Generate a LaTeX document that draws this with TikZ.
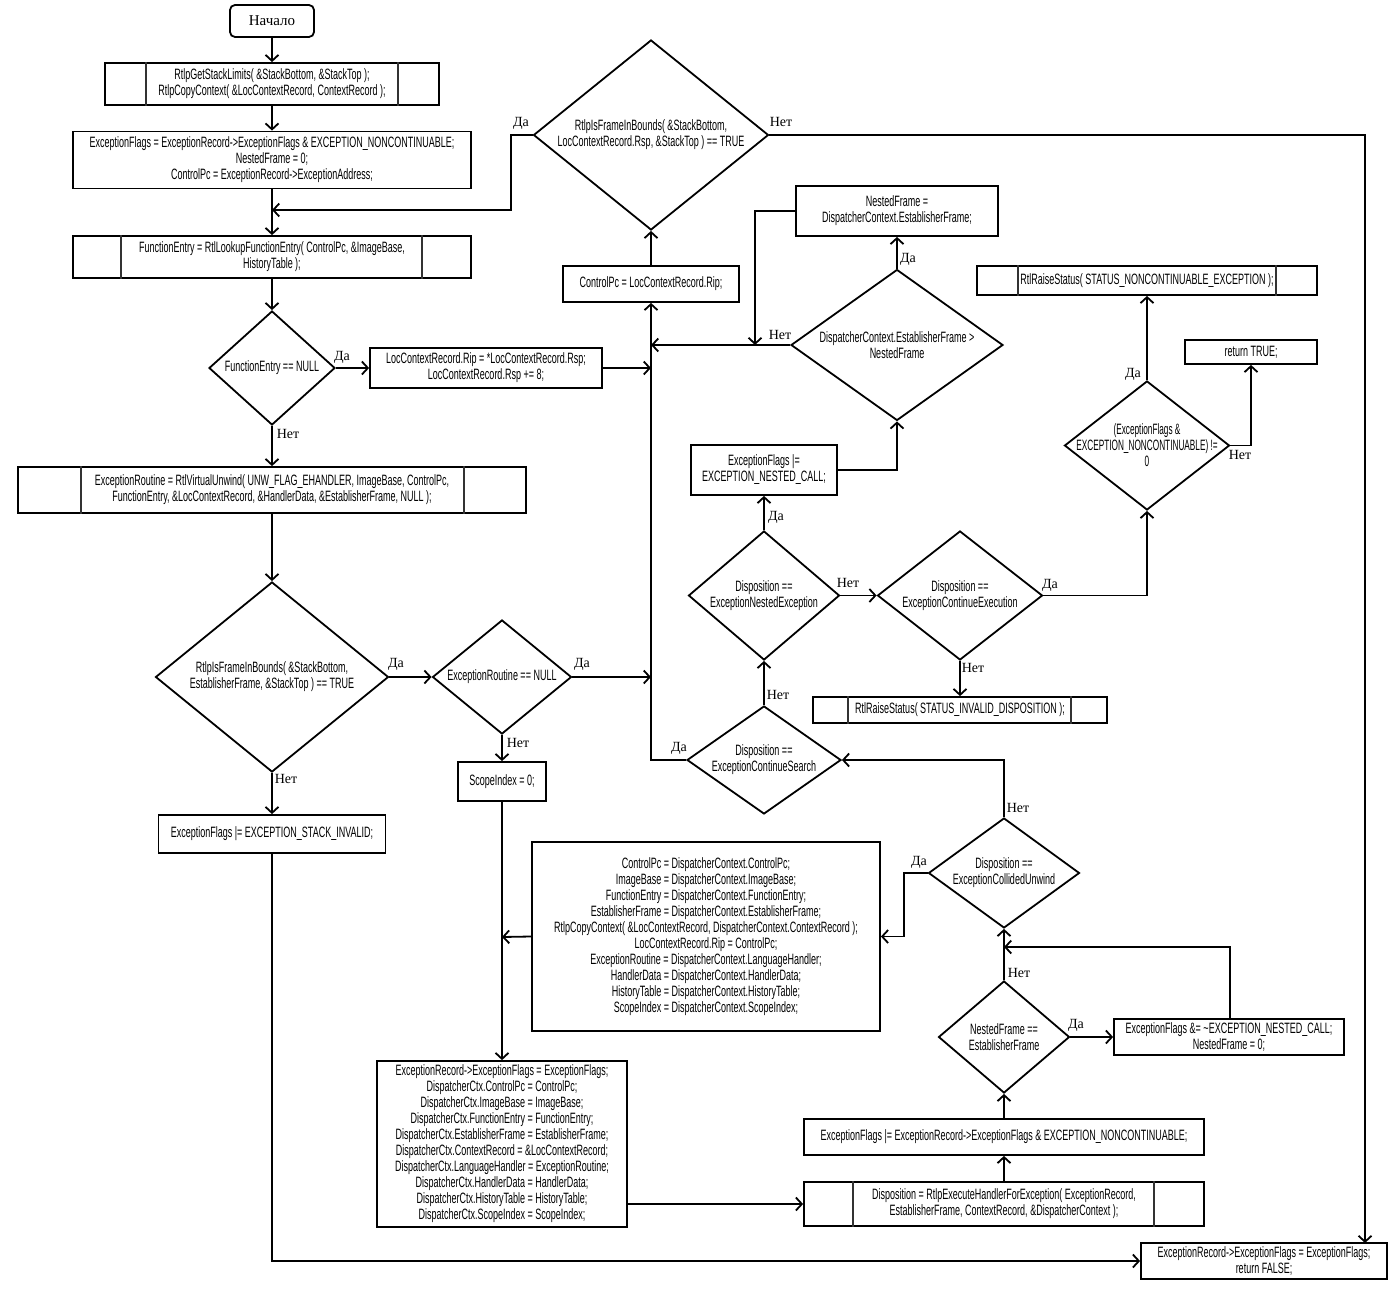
\documentclass[tikz,border=0pt]{standalone}
\usepackage{fontspec}
\setmainfont{Liberation Serif}
\newfontfamily\cf[FakeStretch=0.6]{Liberation Sans}
\newfontfamily\cfn[FakeStretch=0.55]{Liberation Sans}
\usetikzlibrary{shapes.geometric,arrows.meta}
\begin{document}
\begin{tikzpicture}[x=1pt,y=-1pt,
  every node/.style={inner sep=0pt, align=center},
  ln/.style={line width=1.8pt},
  arr/.style={ln,-{Straight Barb[length=6pt,width=13pt]}},
  inner/.style={line width=1.3pt, draw=black!80},
  proc/.style={draw,ln,rectangle,font={\cf\fontsize{15pt}{16pt}\selectfont}},
  dia/.style={draw,ln,diamond},
  dt/.style={font={\cf\fontsize{15pt}{16pt}\selectfont}},
  lab/.style={font={\fontsize{14pt}{16pt}\selectfont}}
]
\fill[white] (0,0) rectangle (1400,1300);
\useasboundingbox (0,0) rectangle (1400,1300);

% ---------- nodes ----------
\node[draw,ln,rounded corners=5pt,minimum width=84pt,minimum height=32pt,font={\fontsize{15pt}{16pt}\selectfont}] (start) at (272,21) {Начало};

\node[proc,minimum width=334pt,minimum height=42pt] (A) at (272,84)
 {RtlpGetStackLimits( \&StackBottom, \&StackTop );\\RtlpCopyContext( \&LocContextRecord, ContextRecord );};
\draw[inner] ([xshift=42pt]A.north west) -- ([xshift=42pt]A.south west);
\draw[inner] ([xshift=-42pt]A.north east) -- ([xshift=-42pt]A.south east);

\node[proc,minimum width=398pt,minimum height=57pt] (B) at (272,160)
 {ExceptionFlags = ExceptionRecord->ExceptionFlags \& EXCEPTION\_NONCONTINUABLE;\\NestedFrame = 0;\\ControlPc = ExceptionRecord->ExceptionAddress;};

\node[proc,minimum width=398pt,minimum height=42pt] (C) at (272,257)
 {FunctionEntry = RtlLookupFunctionEntry( ControlPc, \&ImageBase,\\HistoryTable );};
\draw[inner] ([xshift=49pt]C.north west) -- ([xshift=49pt]C.south west);
\draw[inner] ([xshift=-50pt]C.north east) -- ([xshift=-50pt]C.south east);

\node[dia,minimum width=126pt,minimum height=114pt] (d1) at (272,368) {};
\node[dt] (d1t) at (d1) {FunctionEntry == NULL};

\node[proc,minimum width=232pt,minimum height=40pt] (E) at (486,368)
 {LocContextRecord.Rip = *LocContextRecord.Rsp;\\LocContextRecord.Rsp += 8;};

\node[proc,minimum width=508pt,minimum height=46pt] (F) at (272,490)
 {ExceptionRoutine = RtlVirtualUnwind( UNW\_FLAG\_EHANDLER, ImageBase, ControlPc,\\FunctionEntry, \&LocContextRecord, \&HandlerData, \&EstablisherFrame, NULL );};
\draw[inner] ([xshift=64pt]F.north west) -- ([xshift=64pt]F.south west);
\draw[inner] ([xshift=-63pt]F.north east) -- ([xshift=-63pt]F.south east);

\node[dia,minimum width=233pt,minimum height=190pt] (d2) at (272,677) {};
\node[dt] (d2t) at (d2) {RtlpIsFrameInBounds( \&StackBottom,\\EstablisherFrame, \&StackTop ) == TRUE};

\node[dia,minimum width=139pt,minimum height=114pt] (d3) at (502,677) {};
\node[dt] (d3t) at (d3) {ExceptionRoutine == NULL};

\node[proc,minimum width=227pt,minimum height=38pt] (G) at (272,834)
 {ExceptionFlags |= EXCEPTION\_STACK\_INVALID;};

\node[proc,minimum width=88pt,minimum height=39pt] (H) at (502,781.5) {ScopeIndex = 0;};

\node[dia,minimum width=235pt,minimum height=190pt] (d0) at (651,135) {};
\node[dt] (d0t) at (d0) {RtlpIsFrameInBounds( \&StackBottom,\\LocContextRecord.Rsp, \&StackTop ) == TRUE};

\node[proc,minimum width=176pt,minimum height=36pt] (CP) at (651,284) {ControlPc = LocContextRecord.Rip;};

\node[proc,minimum width=202pt,minimum height=50pt] (NF) at (897,211)
 {NestedFrame =\\DispatcherContext.EstablisherFrame;};

\node[dia,minimum width=212pt,minimum height=151pt] (d5) at (897,345) {};
\node[dt] (d5t) at (d5) {DispatcherContext.EstablisherFrame >\\NestedFrame};

\node[proc,minimum width=340pt,minimum height=29pt] (RS1) at (1147,280.5)
 {RtlRaiseStatus( STATUS\_NONCONTINUABLE\_EXCEPTION );};
\draw[inner] ([xshift=42pt]RS1.north west) -- ([xshift=42pt]RS1.south west);
\draw[inner] ([xshift=-42pt]RS1.north east) -- ([xshift=-42pt]RS1.south east);

\node[proc,minimum width=132pt,minimum height=24pt] (RT) at (1251,352) {return TRUE;};

\node[dia,minimum width=165pt,minimum height=129pt] (d10) at (1147,445.5) {};
\node[font={\cfn\fontsize{15pt}{16pt}\selectfont}] (d10t) at (d10) {(ExceptionFlags \&\\EXCEPTION\_NONCONTINUABLE) !=\\0};

\node[proc,minimum width=146pt,minimum height=50pt] (NC) at (764,470)
 {ExceptionFlags |=\\EXCEPTION\_NESTED\_CALL;};

\node[dia,minimum width=151pt,minimum height=129pt] (d7) at (764,595.5) {};
\node[dt] (d7t) at (d7) {Disposition ==\\ExceptionNestedException};

\node[dia,minimum width=165pt,minimum height=129pt] (d8) at (960,595.5) {};
\node[dt] (d8t) at (d8) {Disposition ==\\ExceptionContinueExecution};

\node[proc,minimum width=294pt,minimum height=26pt] (RS2) at (960,710)
 {RtlRaiseStatus( STATUS\_INVALID\_DISPOSITION );};
\draw[inner] ([xshift=36pt]RS2.north west) -- ([xshift=36pt]RS2.south west);
\draw[inner] ([xshift=-37pt]RS2.north east) -- ([xshift=-37pt]RS2.south east);

\node[dia,minimum width=154pt,minimum height=108pt] (d6) at (764,760) {};
\node[dt] (d6t) at (d6) {Disposition ==\\ExceptionContinueSearch};

\node[dia,minimum width=151pt,minimum height=110pt] (d9) at (1004,873) {};
\node[dt] (d9t) at (d9) {Disposition ==\\ExceptionCollidedUnwind};

\node[proc,minimum width=348pt,minimum height=189pt] (I) at (706,936.5)
 {ControlPc = DispatcherContext.ControlPc;\\
  ImageBase = DispatcherContext.ImageBase;\\
  FunctionEntry = DispatcherContext.FunctionEntry;\\
  EstablisherFrame = DispatcherContext.EstablisherFrame;\\
  RtlpCopyContext( \&LocContextRecord, DispatcherContext.ContextRecord );\\
  LocContextRecord.Rip = ControlPc;\\
  ExceptionRoutine = DispatcherContext.LanguageHandler;\\
  HandlerData = DispatcherContext.HandlerData;\\
  HistoryTable = DispatcherContext.HistoryTable;\\
  ScopeIndex = DispatcherContext.ScopeIndex;};

\node[dia,minimum width=131pt,minimum height=112pt] (d11) at (1004,1037) {};
\node[dt] (d11t) at (d11) {NestedFrame ==\\EstablisherFrame};

\node[proc,minimum width=230pt,minimum height=36pt] (J) at (1229,1037)
 {ExceptionFlags \&= \textasciitilde EXCEPTION\_NESTED\_CALL;\\NestedFrame = 0;};

\node[proc,minimum width=400pt,minimum height=36pt] (K) at (1004,1137)
 {ExceptionFlags |= ExceptionRecord->ExceptionFlags \& EXCEPTION\_NONCONTINUABLE;};

\node[proc,minimum width=400pt,minimum height=44pt] (L) at (1004,1204)
 {Disposition = RtlpExecuteHandlerForException( ExceptionRecord,\\EstablisherFrame, ContextRecord, \&DispatcherContext );};
\draw[inner] ([xshift=50pt]L.north west) -- ([xshift=50pt]L.south west);
\draw[inner] ([xshift=-51pt]L.north east) -- ([xshift=-51pt]L.south east);

\node[proc,minimum width=250pt,minimum height=166pt] (N) at (502,1144)
 {ExceptionRecord->ExceptionFlags = ExceptionFlags;\\
  DispatcherCtx.ControlPc = ControlPc;\\
  DispatcherCtx.ImageBase = ImageBase;\\
  DispatcherCtx.FunctionEntry = FunctionEntry;\\
  DispatcherCtx.EstablisherFrame = EstablisherFrame;\\
  DispatcherCtx.ContextRecord = \&LocContextRecord;\\
  DispatcherCtx.LanguageHandler = ExceptionRoutine;\\
  DispatcherCtx.HandlerData = HandlerData;\\
  DispatcherCtx.HistoryTable = HistoryTable;\\
  DispatcherCtx.ScopeIndex = ScopeIndex;};

\node[proc,minimum width=246pt,minimum height=36pt] (M) at (1264,1261)
 {ExceptionRecord->ExceptionFlags = ExceptionFlags;\\return FALSE;};

% ---------- junction coordinates ----------
\coordinate (j210) at (272,210);
\coordinate (v369) at (651,368);
\coordinate (v677) at (651,677);
\coordinate (v345) at (651,345);
\coordinate (w345) at (755,345);
\coordinate (c947) at (1004,947);
\coordinate (c937) at (502,937);
\coordinate (mtop) at (1365,1243);

% ---------- connectors ----------
\draw[arr] (start) -- (A);
\draw[arr] (A) -- (B);
\draw[arr] (B) -- (C);
\draw[arr] (d0.west) -- ++(-22,0) |- (j210);
\draw[arr] (C) -- (d1);
\draw[arr] (d1.east) -- (E.west);
\draw[arr] (E.east) -- (v369);
\draw[arr] (d1.south) -- (F.north);
\draw[arr] (F.south) -- (d2.north);
\draw[arr] (d2.east) -- (d3.west);
\draw[arr] (d2.south) -- (G.north);
\draw[arr] (d3.east) -- (v677);
\draw[arr] (d3.south) -- (H.north);
\draw[arr] (H.south) -- (N.north);
\draw[arr] (N.east |- L.west) -- (L.west);
\draw[arr] (L.north) -- (K.south);
\draw[arr] (K.north) -- (d11.south);
\draw[arr] (d11.east) -- (J.west |- d11.east);
\draw[arr] (d11.north) -- (d9.south);
\draw[arr] ([xshift=1pt]J.north) |- (c947);
\draw[arr] (d9.west) -- ++(-24,0) |- (I.east);
\draw[arr] (I.west) -- (c937);
\draw[arr] (d9.north) |- (d6.east);
\draw[arr] (d6.west) -| (CP.south);
\draw[arr] (CP.north) -- (d0.south);
\draw[arr] (d0.east) -| (mtop);
\draw[arr] (d6.north) -- (d7.south);
\draw[arr] (d7.north) -- (NC.south);
\draw[arr] (d7.east) -- (d8.west);
\draw[arr] (d8.east) -| (d10.south);
\draw[arr] (d8.south) -- (RS2.north);
\draw[arr] (NC.east) -| (d5.south);
\draw[arr] (d5.north) -- (NF.south);
\draw[arr] (NF.west) -| (w345);
\draw[arr] (d5.west) -- (v345);
\draw[arr] (d10.north) -- (RS1.south);
\draw[arr] (d10.east) -| (RT.south);
\draw[arr] (G.south) |- (M.west);

% ---------- labels ----------
\node[lab] (l1) at (521,123) {Да};
\node[lab] (l2) at (781,122) {Нет};
\node[lab] (l3) at (342,357) {Да};
\node[lab] (l4) at (288,434) {Нет};
\node[lab] (l5) at (396,664) {Да};
\node[lab] (l6) at (286,779) {Нет};
\node[lab] (l7) at (582,664) {Да};
\node[lab] (l8) at (518,743) {Нет};
\node[lab] (l9) at (908,259) {Да};
\node[lab] (l10) at (780,335) {Нет};
\node[lab] (l11) at (1133,374) {Да};
\node[lab] (l12) at (1240,455) {Нет};
\node[lab] (l13) at (776,517) {Да};
\node[lab] (l14) at (848,583) {Нет};
\node[lab] (l15) at (1050,585) {Да};
\node[lab] (l16) at (973,668) {Нет};
\node[lab] (l17) at (778,695) {Нет};
\node[lab] (l18) at (679,748) {Да};
\node[lab] (l19) at (1018,808) {Нет};
\node[lab] (l20) at (919,862) {Да};
\node[lab] (l21) at (1019,973) {Нет};
\node[lab] (l22) at (1076,1025) {Да};
\end{tikzpicture}
\end{document}
